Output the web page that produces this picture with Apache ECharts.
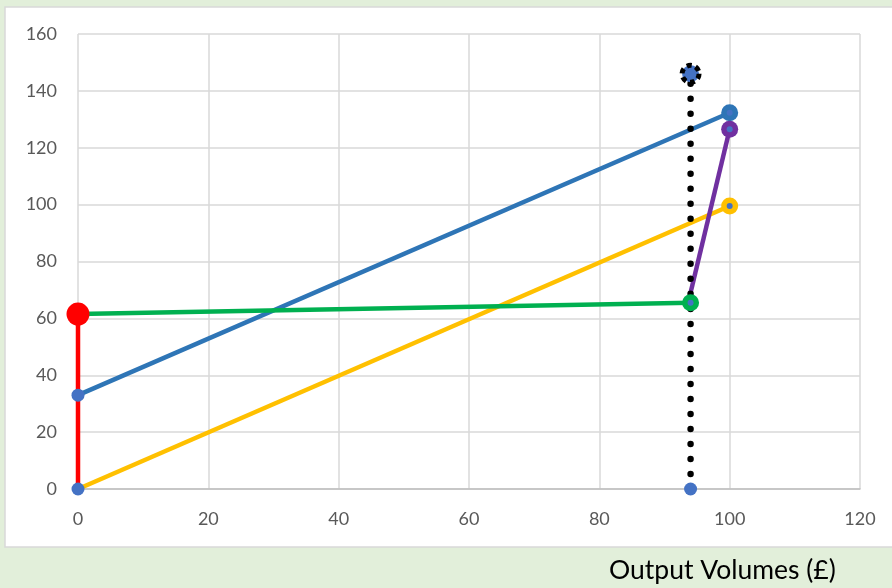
<!DOCTYPE html>
<html><head><meta charset="utf-8">
<script src="https://cdn.jsdelivr.net/npm/echarts@6/dist/echarts.min.js"></script>
<style>html,body{margin:0;padding:0;background:#e2efda;}#c{width:892px;height:588px;}</style>
</head><body><div id="c"></div>
<script>
const xTicks = [0, 20, 40, 60, 80, 100, 120];
const yTicks = [0, 20, 40, 60, 80, 100, 120, 140, 160];
const axisTitle = "Output Volumes (£)";

const redX = [0, 0];        const redY = [0, 61.5];
const blueX = [0, 100];     const blueY = [33, 132.3];
const yellowX = [0, 100];   const yellowY = [0, 99.5];
const greenX = [0, 94];     const greenY = [61.5, 65.5];
const purpleX = [94, 100];  const purpleY = [69, 126.5];
const dotX = [94, 94];      const dotY = [0, 146];

const pairs = (xs, ys) => xs.map((x, i) => [x, ys[i]]);

const chart = echarts.init(document.getElementById('c'));
const FONT = 'Lato';
function lineS(xs, ys, color, extra) {
  return Object.assign({
    type: 'line', data: pairs(xs, ys), symbol: 'none', silent: true,
    lineStyle: {color: color, width: 4.5}, z: 3, animation: false
  }, extra || {});
}
function endMarker(xs, ys, idx, color, size, z) {
  return {type: 'scatter', data: [pairs(xs, ys)[idx]], symbolSize: size,
    itemStyle: {color: color, opacity: 1}, z: z || 5, animation: false, silent: true};
}
chart.setOption({
  backgroundColor: '#e2efda',
  animation: false,
  graphic: [
    {type: 'rect', shape: {x: 5, y: 7, width: 900, height: 540}, style: {fill: '#ffffff', stroke: '#d9d9d9', lineWidth: 1.5}, z: -10},
    {type: 'text', left: 609, top: 557, style: {text: axisTitle, fill: '#000000', font: '26.5px ' + FONT}}
  ],
  grid: {left: 78, right: 32, top: 34, bottom: 99},
  xAxis: {type: 'value', min: xTicks[0], max: xTicks[xTicks.length - 1], interval: 20,
    axisLine: {show: true, lineStyle: {color: '#bfbfbf', width: 1.5}}, axisTick: {show: false},
    axisLabel: {color: '#595959', fontSize: 18, fontFamily: FONT, margin: 21},
    splitLine: {show: true, lineStyle: {color: '#d9d9d9', width: 1.5}}},
  yAxis: {type: 'value', min: yTicks[0], max: yTicks[yTicks.length - 1], interval: 20,
    axisLine: {show: false}, axisTick: {show: false},
    axisLabel: {color: '#595959', fontSize: 18, fontFamily: FONT, margin: 21},
    splitLine: {show: true, lineStyle: {color: '#d9d9d9', width: 1.5}}},
  series: [
    lineS(yellowX, yellowY, '#ffc000'),
    lineS(blueX, blueY, '#2e75b6'),
    lineS(greenX, greenY, '#00b050'),
    lineS(purpleX, purpleY, '#7030a0'),
    lineS(redX, redY, '#ff0000'),
    lineS(dotX, dotY, '#000000', {lineStyle: {color: '#000000', width: 6.5, type: [0.01, 15], cap: 'round'}, z: 4}),
    endMarker(yellowX, yellowY, 1, '#ffc000', 17),
    endMarker(blueX, blueY, 1, '#2e75b6', 17),
    endMarker(greenX, greenY, 1, '#00b050', 17),
    endMarker(purpleX, purpleY, 1, '#7030a0', 17),
    endMarker(redX, redY, 1, '#ff0000', 23, 7),
    {type: 'scatter', data: [pairs(dotX, dotY)[1]], symbolSize: 17, z: 6, animation: false, silent: true,
      itemStyle: {color: '#4472c4', opacity: 1, borderColor: '#000000', borderWidth: 5, borderType: [5, 4]}},
    {type: 'scatter', data: [pairs(redX, redY)[0], pairs(blueX, blueY)[0], pairs(dotX, dotY)[0]], symbolSize: 13,
      itemStyle: {color: '#4472c4', opacity: 1}, z: 6, animation: false, silent: true},
    {type: 'scatter', data: [pairs(yellowX, yellowY)[1], pairs(blueX, blueY)[1], pairs(greenX, greenY)[1], pairs(purpleX, purpleY)[1]], symbolSize: 6,
      itemStyle: {color: '#4472c4', opacity: 1}, z: 6, animation: false, silent: true}
  ]
});
</script></body></html>
